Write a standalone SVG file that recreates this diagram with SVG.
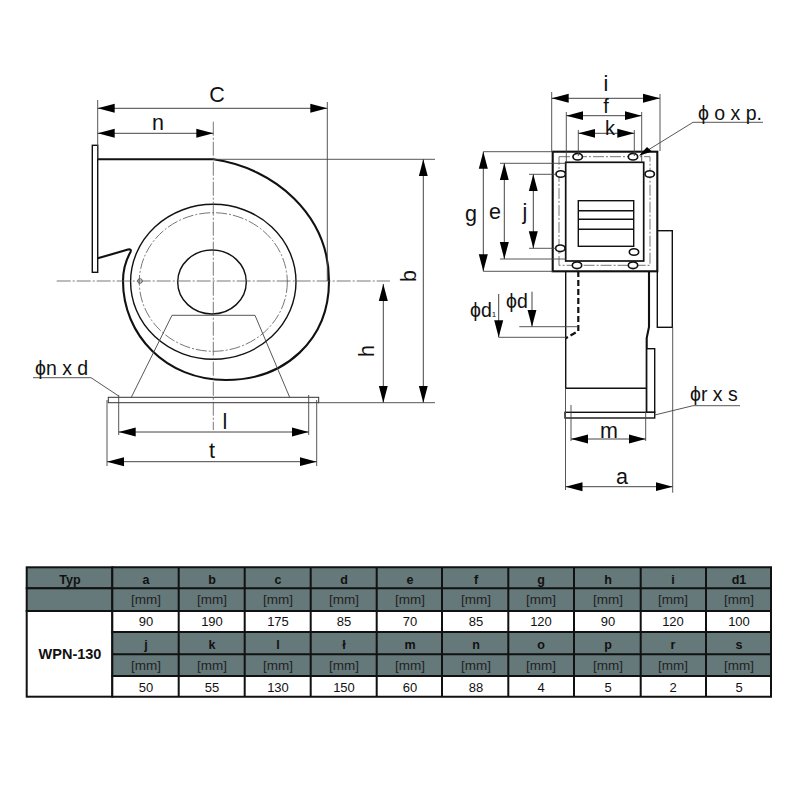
<svg xmlns="http://www.w3.org/2000/svg" width="800" height="800" viewBox="0 0 800 800">
<style>
text{font-family:"Liberation Sans",Arial,sans-serif;fill:#111}
.lab{font-size:21.5px;text-anchor:middle}
.lbs{font-size:19.5px}
.o{fill:none;stroke:#111;stroke-width:1.4}
.ot{fill:none;stroke:#111;stroke-width:2.1}
.th{fill:none;stroke:#444;stroke-width:.9}
.dim{fill:none;stroke:#444;stroke-width:1;marker-start:url(#arr);marker-end:url(#arr)}
.one{fill:none;stroke:#444;stroke-width:1;marker-end:url(#arrE)}
.cl{fill:none;stroke:#555;stroke-width:.8;stroke-dasharray:14 2 2 2}
.dash{fill:none;stroke:#666;stroke-width:.9;stroke-dasharray:11 2 2 2}
.hole{fill:#fff;stroke:#111;stroke-width:1.6}
.g{fill:#65787a;stroke:#111;stroke-width:2}
.w{fill:#fff;stroke:#111;stroke-width:2}
.h{font-size:12.5px;font-weight:bold;text-anchor:middle}
.u{font-size:13.5px;text-anchor:middle;fill:#222}
.v{font-size:13px;text-anchor:middle}
</style>
<defs>
<marker id="arr" markerUnits="userSpaceOnUse" markerWidth="19" markerHeight="11" refX="17" refY="5.500" orient="auto-start-reverse"><path d="M17 5.500L0 1V10Z" fill="#000"/></marker>
<marker id="arrE" markerUnits="userSpaceOnUse" markerWidth="19" markerHeight="11" refX="17" refY="5.500" orient="auto"><path d="M17 5.500L0 1V10Z" fill="#000"/></marker>
</defs>

<g id="front-view">
<ellipse class="o" cx="213.3" cy="281.8" rx="82.7" ry="77.5"/>
<ellipse class="dash" cx="213.3" cy="282" rx="74" ry="69.3"/>
<ellipse class="o" cx="212" cy="282" rx="34.3" ry="32"/>
<circle class="th" cx="140" cy="281" r="2.3"/>
<path class="ot" d="M97.7 159.3H213.3C275 168 329 215 329 281C329 340 285 380 226 380C166 380 123 335 123 281C123 268 126 260 130.5 252C131.5 249.5 130 249 128 249.6L97.7 258.3"/>
<rect x="92.3" y="145.3" width="5.4" height="127" fill="#fff" stroke="#111" stroke-width="1.4"/>
<path class="th" d="M131.3 397.3L172 315.3H255L289.7 397.3"/>
<rect x="108.3" y="397.3" width="210.4" height="5.4" fill="none" stroke="#333" stroke-width="1"/>
</g>

<g id="side-view">
<rect x="657.3" y="230.7" width="15" height="96.6" class="o"/>
<path class="o" d="M565.7 271V388.3H646.7"/>
<path class="ot" d="M649 271V327L646.7 338V412"/>
<path d="M578.3 271V331L565.7 338.3" fill="none" stroke="#111" stroke-width="2.200" stroke-dasharray="6 3"/>
<rect x="646.7" y="348.7" width="8" height="63.6" fill="#fff" stroke="#111" stroke-width="1.4"/>
<rect x="565" y="412.3" width="89.7" height="5.7" fill="#fff" stroke="#111" stroke-width="1.4"/>
<rect x="552.7" y="151.7" width="104.6" height="119.6" fill="#fff" stroke="#111" stroke-width="2.100"/>
<rect class="dash" x="559" y="156.7" width="91" height="108.6"/>
<rect x="565.7" y="162.3" width="78" height="98.7" fill="#fff" stroke="#111" stroke-width="1.700"/>
<rect class="o" x="578.3" y="200.7" width="55.4" height="45.6"/>
<path class="o" d="M578.3 210.7H633.7M578.3 219.3H633.7M578.3 229.3H633.7"/>
<g class="holes">
<ellipse class="hole" cx="577.7" cy="156.7" rx="4.7" ry="3.3"/>
<ellipse class="hole" cx="633" cy="156.7" rx="4.7" ry="3.3"/>
<ellipse class="hole" cx="560.7" cy="174" rx="4.7" ry="3.3"/>
<ellipse class="hole" cx="649.7" cy="174" rx="4.7" ry="3.3"/>
<ellipse class="hole" cx="560.3" cy="248.3" rx="4.7" ry="3.3"/>
<ellipse class="hole" cx="634" cy="252" rx="4.7" ry="3.3"/>
<ellipse class="hole" cx="577" cy="265.3" rx="4.7" ry="3.3"/>
<ellipse class="hole" cx="633" cy="265.3" rx="4.7" ry="3.3"/>
</g>
</g>

<g id="connectors">
<path class="cl" d="M56.7 281H390"/>
<path class="cl" d="M213.3 121.7V430"/>
<path class="th" d="M97.7 100V159M327.3 102V281M213.3 159.3H435M318 402.7H435M107 400V466M316.7 400V466M118.7 395V435M308.7 395V435"/>
<path class="dim" d="M97.7 108.3H327.3"/>
<path class="dim" d="M97.7 133.3H213.3"/>
<path class="dim" d="M118.7 432H308.7"/>
<path class="dim" d="M107 461.7H316.7"/>
<path class="dim" d="M383.3 284V402.7"/>
<path class="dim" d="M423.3 159.3V402.7"/>
<path class="th" d="M33 377.7H91L118.7 396"/>
<path class="th" d="M551.7 92V151.7M660 94V151M566.3 112V162M641.7 112V162M578.3 130V156M634.3 130V156M483.3 151.7H552.7M500 163.3H565.7M500 259H565.7M483.3 271.3H552.7M529 174.3H556M529 248.3H556"/>
<path class="dim" d="M551.7 98.3H660"/>
<path class="dim" d="M566.3 115.7H641.7"/>
<path class="dim" d="M578.3 133.3H634.3"/>
<path class="dim" d="M483.3 151.7V271.3"/>
<path class="dim" d="M504.3 163.3V259"/>
<path class="dim" d="M533.3 174.3V248.3"/>
<path class="th" d="M763 122.3H693L640 155"/>
<path d="M639 155.700L647 147L652 151.500Z" fill="#000"/>
<path class="one" d="M532 291.700V326.700"/>
<path class="one" d="M498.700 294V337.300"/>
<path class="th" d="M519.300 326.700H578M498.700 337.300H566"/>
<path class="th" d="M571 405V441M645.700 412V441M565.500 388V490M672.700 327V492.700"/>
<path class="dim" d="M571 439H645.700"/>
<path class="dim" d="M565.500 486.700H672.700"/>
<path class="th" d="M740 405.700H693L654.700 415"/>
</g>

<g id="labels">
<text class="lab" x="217" y="102">C</text>
<text class="lab" x="158" y="130">n</text>
<text class="lab" x="225" y="429">l</text>
<text class="lab" x="212" y="458">t</text>
<text class="lab" transform="translate(374 351) rotate(-90)">h</text>
<text class="lab" transform="translate(416 276) rotate(-90)">b</text>
<text class="lbs" x="35" y="375">ϕn x d</text>
<text class="lab" x="606" y="90.500">i</text>
<text class="lab" x="606" y="113" style="font-size:20px">f</text>
<text class="lab" x="610" y="135" style="font-size:20px">k</text>
<text class="lab" x="471" y="221">g</text>
<text class="lab" x="495" y="219">e</text>
<text class="lab" x="525" y="219">j</text>
<text class="lbs" x="698" y="120">ϕ o x p.</text>
<text class="lbs" x="506" y="308">ϕd</text>
<text class="lbs" x="470" y="317">ϕd<tspan font-size="8">1</tspan></text>
<text class="lbs" x="690" y="401">ϕr x s</text>
<text class="lab" x="609" y="438">m</text>
<text class="lab" x="622" y="484">a</text>
</g>

<g id="table">
<rect class="g" x="26.700" y="567.300" width="85.600" height="21"/>
<rect class="g" x="26.700" y="588.300" width="85.600" height="22.700"/>
<rect class="w" x="26.700" y="611" width="85.600" height="85.700"/>
<text class="h" x="70" y="584">Typ</text>
<text x="70" y="659" font-size="14.500" font-weight="bold" text-anchor="middle">WPN-130</text>

<path class="g" d="M112.300 567.300H771V588.300H112.300ZM112.300 588.300H771V611H112.300ZM112.300 632H771V654.300H112.300ZM112.300 654.300H771V676H112.300Z"/>
<path class="w" d="M112.300 611H771V632H112.300ZM112.300 676H771V696.700H112.300Z"/>
<path fill="none" stroke="#111" stroke-width="2" d="M178.700 567.300V696.700M244.700 567.300V696.700M310.700 567.300V696.700M376.700 567.300V696.700M442 567.300V696.700M508.300 567.300V696.700M574 567.300V696.700M640.700 567.300V696.700M706 567.300V696.700"/>

<g id="row-1-head">
<text class="h" x="146" y="584">a</text><text class="h" x="212" y="584">b</text><text class="h" x="278" y="584">c</text><text class="h" x="344" y="584">d</text><text class="h" x="410" y="584">e</text><text class="h" x="476" y="584">f</text><text class="h" x="541" y="584">g</text><text class="h" x="608" y="584">h</text><text class="h" x="673" y="584">i</text><text class="h" x="739" y="584">d1</text>
</g>
<g id="row-1-unit">
<text class="u" x="146" y="604">[mm]</text><text class="u" x="212" y="604">[mm]</text><text class="u" x="278" y="604">[mm]</text><text class="u" x="344" y="604">[mm]</text><text class="u" x="410" y="604">[mm]</text><text class="u" x="476" y="604">[mm]</text><text class="u" x="541" y="604">[mm]</text><text class="u" x="608" y="604">[mm]</text><text class="u" x="673" y="604">[mm]</text><text class="u" x="739" y="604">[mm]</text>
</g>
<g id="row-1-val">
<text class="v" x="146" y="626">90</text><text class="v" x="212" y="626">190</text><text class="v" x="278" y="626">175</text><text class="v" x="344" y="626">85</text><text class="v" x="410" y="626">70</text><text class="v" x="476" y="626">85</text><text class="v" x="541" y="626">120</text><text class="v" x="608" y="626">90</text><text class="v" x="673" y="626">120</text><text class="v" x="739" y="626">100</text>
</g>
<g id="row-2-head">
<text class="h" x="146" y="649">j</text><text class="h" x="212" y="649">k</text><text class="h" x="278" y="649">l</text><text class="h" x="344" y="649">ł</text><text class="h" x="410" y="649">m</text><text class="h" x="476" y="649">n</text><text class="h" x="541" y="649">o</text><text class="h" x="608" y="649">p</text><text class="h" x="673" y="649">r</text><text class="h" x="739" y="649">s</text>
</g>
<g id="row-2-unit">
<text class="u" x="146" y="670">[mm]</text><text class="u" x="212" y="670">[mm]</text><text class="u" x="278" y="670">[mm]</text><text class="u" x="344" y="670">[mm]</text><text class="u" x="410" y="670">[mm]</text><text class="u" x="476" y="670">[mm]</text><text class="u" x="541" y="670">[mm]</text><text class="u" x="608" y="670">[mm]</text><text class="u" x="673" y="670">[mm]</text><text class="u" x="739" y="670">[mm]</text>
</g>
<g id="row-2-val">
<text class="v" x="146" y="692">50</text><text class="v" x="212" y="692">55</text><text class="v" x="278" y="692">130</text><text class="v" x="344" y="692">150</text><text class="v" x="410" y="692">60</text><text class="v" x="476" y="692">88</text><text class="v" x="541" y="692">4</text><text class="v" x="608" y="692">5</text><text class="v" x="673" y="692">2</text><text class="v" x="739" y="692">5</text>
</g>
</g>
</svg>
